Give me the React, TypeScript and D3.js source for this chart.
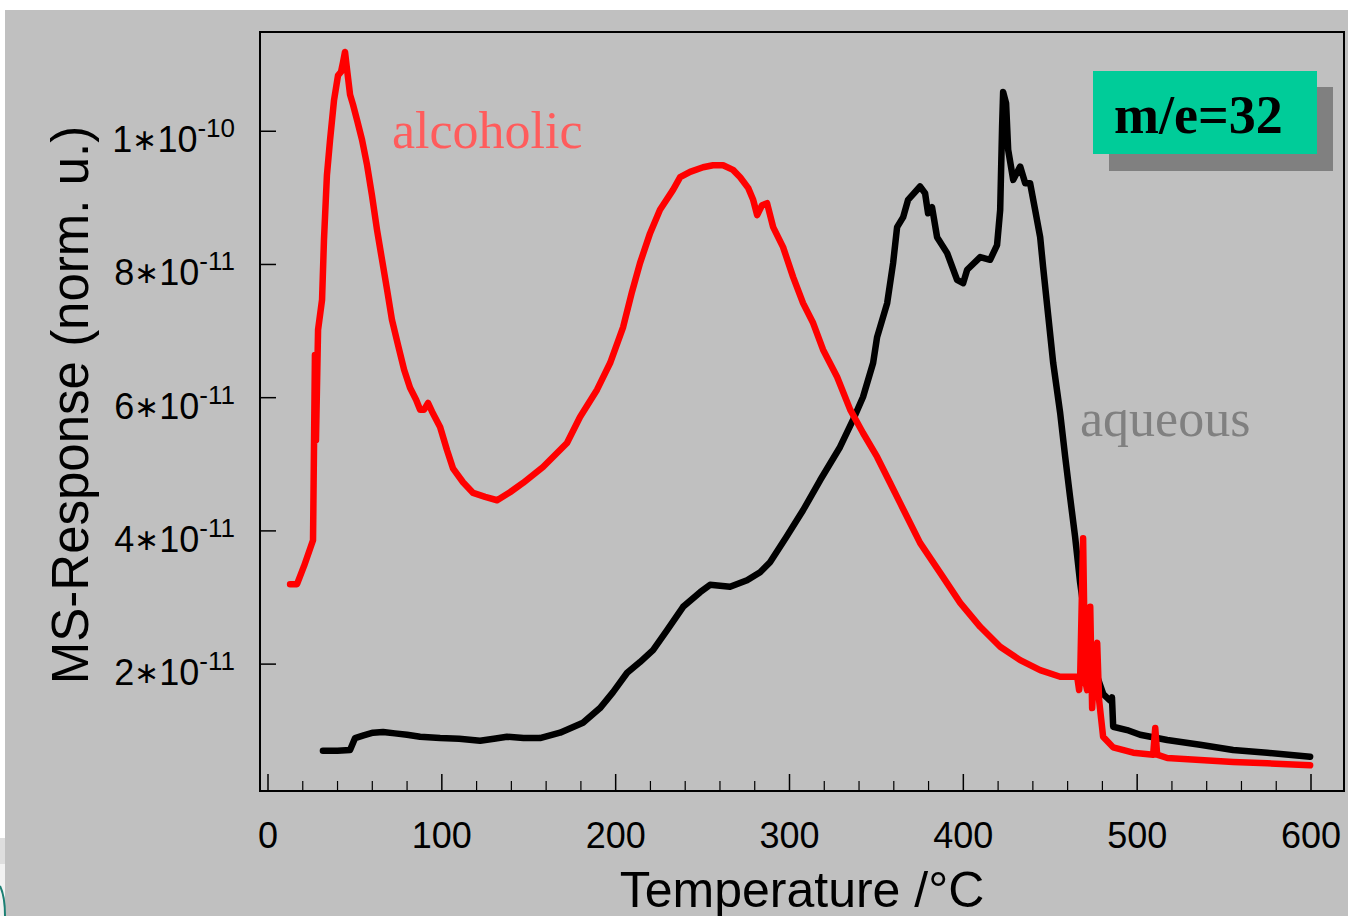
import React from "react";
import * as d3 from "d3";

// temperature (°C), signal in units of 1e-11
const alcoholic: [number, number][] = [
  [12.7, 3.2], [16.7, 3.2], [20.7, 3.47], [24.7, 3.77], [25.9, 3.86], [26.5, 5.36], [27.0, 6.64],
  [27.6, 5.36], [28.8, 7.02], [31.1, 7.47], [32.2, 8.37], [33.9, 9.34], [35.7, 9.87], [38.0, 10.47],
  [40.3, 10.84], [42.0, 10.89], [43.2, 11.04], [44.3, 11.19], [45.5, 10.92], [47.2, 10.55],
  [48.9, 10.4], [51.2, 10.17], [54.1, 9.87], [57.0, 9.49], [59.8, 9.04], [62.7, 8.52], [65.6, 8.07],
  [68.5, 7.62], [71.3, 7.17], [74.8, 6.79], [78.3, 6.42], [81.7, 6.15], [85.2, 5.97], [87.5, 5.82],
  [89.8, 5.82], [92.1, 5.92], [94.4, 5.79], [99.0, 5.56], [103.0, 5.21], [106.4, 4.94], [112.2, 4.73],
  [118.0, 4.57], [124.9, 4.51], [131.8, 4.46], [139.2, 4.58], [146.7, 4.72], [158.2, 4.96],
  [165.1, 5.14], [172.0, 5.32], [179.5, 5.71], [189.3, 6.12], [196.8, 6.52], [204.3, 7.06],
  [209.4, 7.59], [214.0, 8.02], [219.8, 8.47], [225.5, 8.82], [233.0, 9.12], [237.1, 9.31],
  [242.8, 9.39], [250.3, 9.46], [256.0, 9.49], [261.8, 9.49], [267.5, 9.42], [271.6, 9.31],
  [276.2, 9.15], [279.1, 8.97], [281.4, 8.74], [284.2, 8.89], [287.1, 8.92], [290.6, 8.56],
  [296.3, 8.26], [302.1, 7.81], [307.8, 7.42], [313.6, 7.12], [319.3, 6.72], [327.4, 6.31],
  [334.9, 5.82], [342.3, 5.47], [350.4, 5.11], [357.9, 4.72], [363.6, 4.42], [375.1, 3.82],
  [386.7, 3.37], [398.2, 2.92], [409.7, 2.56], [421.2, 2.26], [432.7, 2.06], [444.2, 1.91],
  [455.7, 1.81], [465.5, 1.81], [466.6, 1.61], [467.2, 1.79], [468.9, 3.89], [470.1, 1.76],
  [471.2, 1.61], [473.0, 2.86], [474.1, 1.34], [475.8, 2.21], [477.0, 2.32], [478.1, 1.46],
  [480.4, 0.91], [486.2, 0.75], [497.7, 0.67], [509.2, 0.64], [510.4, 1.04], [511.5, 0.64],
  [517.3, 0.59], [536.2, 0.56], [555.2, 0.53], [574.8, 0.51], [599.5, 0.48],
];

const aqueous: [number, number][] = [
  [31.6, 0.7], [40, 0.7], [47.2, 0.71], [50.1, 0.89], [55, 0.93], [60.4, 0.97], [66.2, 0.98],
  [73, 0.96], [80, 0.94], [87.5, 0.91], [99, 0.89], [110, 0.88], [122, 0.85], [130, 0.88],
  [137.5, 0.91], [147, 0.89], [156.5, 0.89], [168, 0.97], [181.2, 1.12], [191, 1.34], [198.5, 1.58],
  [206.6, 1.87], [214, 2.03], [221.5, 2.21], [229.6, 2.51], [238.8, 2.86], [248.6, 3.08],
  [254.3, 3.19], [265.8, 3.16], [275.6, 3.26], [283.1, 3.38], [288.8, 3.53], [298, 3.9],
  [307.8, 4.31], [317.6, 4.76], [329.1, 5.26], [336.6, 5.67], [342.3, 6.01], [348.1, 6.52],
  [350.4, 6.91], [356.2, 7.42], [359.6, 8.02], [361.9, 8.56], [365.4, 8.71], [368.2, 8.97],
  [375.1, 9.17], [378, 9.07], [379.7, 8.77], [382, 8.86], [384.9, 8.41], [390.7, 8.17],
  [396.4, 7.77], [399.9, 7.72], [402.2, 7.92], [409.7, 8.11], [415.4, 8.07], [419.4, 8.29],
  [421.2, 8.82], [422.3, 10.07], [422.9, 10.59], [424.6, 10.42], [425.8, 9.72], [428.7, 9.27],
  [432.7, 9.47], [435.6, 9.22], [438.4, 9.22], [441.3, 8.82], [444.2, 8.41], [445.9, 7.96],
  [448.8, 7.24], [451.7, 6.52], [455.7, 5.77], [458.6, 5.11], [461.4, 4.51], [464.3, 3.91],
  [467.2, 3.22], [471.2, 2.47], [476.5, 1.85], [480.5, 1.55], [484.5, 1.45], [485.5, 1.5],
  [486.2, 1.06], [494.2, 1.01], [501.7, 0.94], [517.3, 0.86], [536.2, 0.79], [555.2, 0.71],
  [574.8, 0.67], [599.5, 0.61],
];

const xTicks = [0, 100, 200, 300, 400, 500, 600];
const xMinorTicks = d3.range(0, 601, 20).filter((v) => v % 100 !== 0);
const yTicks = [2, 4, 6, 8, 10];
const yMantissa = ["2", "4", "6", "8", "1"];
const yExponent = ["-11", "-11", "-11", "-11", "-10"];

const sans = "'Liberation Sans', Arial, sans-serif";
const serif = "'Liberation Serif', 'Times New Roman', serif";

export default function App() {
  const W = 1348;
  const H = 916;
  const left = 260, top = 32, right = 1344, bottom = 791;

  const x = d3.scaleLinear().domain([0, 600]).range([268, 1311]);
  const y = d3.scaleLinear().domain([0.095, 11.49]).range([bottom, top]);

  const line = d3.line<[number, number]>()
    .x((d) => x(d[0]))
    .y((d) => y(d[1]));

  return (
    <svg width={W} height={H} style={{ position: "absolute", left: 0, top: 0 }}>
      <rect x={0} y={0} width={W} height={H} fill="#ffffff" />
      <rect x={5} y={10} width={W - 5} height={H - 10} fill="#c0c0c0" />
      {/* leftover bits of the slide at the edge */}
      <rect x={0} y={838} width={5} height={26} fill="#dedede" />
      <rect x={0} y={864} width={5} height={52} fill="#f2f2f2" />
      <path d="M0,886 Q5,896 5,916" fill="none" stroke="#1b7f73" strokeWidth={2} />

      {/* frame */}
      <rect x={left} y={top} width={right - left} height={bottom - top}
        fill="none" stroke="#000" strokeWidth={2} />

      {/* x ticks, inside */}
      {xTicks.map((t) => (
        <line key={"xM" + t} x1={x(t)} x2={x(t)} y1={bottom} y2={bottom - 17}
          stroke="#000" strokeWidth={1.5} />
      ))}
      {xMinorTicks.map((t) => (
        <line key={"xm" + t} x1={x(t)} x2={x(t)} y1={bottom} y2={bottom - 10}
          stroke="#000" strokeWidth={1.2} />
      ))}
      {xTicks.map((t) => (
        <text key={"xl" + t} x={x(t)} y={848} textAnchor="middle"
          fontFamily={sans} fontSize={36} fill="#000">{t}</text>
      ))}

      {/* y ticks */}
      {yTicks.map((t, i) => (
        <g key={"y" + t}>
          <line x1={left} x2={left + 16} y1={y(t)} y2={y(t)} stroke="#000" strokeWidth={1.5} />
          <text x={235} y={y(t) + 21} textAnchor="end" fontFamily={sans} fontSize={36} fill="#000">
            <tspan>{yMantissa[i]}</tspan>
            <tspan fontSize={30} dy={-2}>∗</tspan>
            <tspan dy={2}>10</tspan>
            <tspan dy={-15} fontSize={26}>{yExponent[i]}</tspan>
          </text>
        </g>
      ))}

      {/* axis titles */}
      <text x={802} y={907} textAnchor="middle" fontFamily={sans} fontSize={50} fill="#000">
        Temperature /°C
      </text>
      <text transform={`translate(88,405) rotate(-90)`} textAnchor="middle"
        fontFamily={sans} fontSize={51} fill="#000">
        MS-Response (norm. u.)
      </text>

      {/* curves */}
      <path d={line(aqueous) || ""} fill="none" stroke="#000" strokeWidth={6.5}
        strokeLinejoin="round" strokeLinecap="round" />
      <path d={line(alcoholic) || ""} fill="none" stroke="#ff0000" strokeWidth={6.5}
        strokeLinejoin="round" strokeLinecap="round" />

      {/* series labels */}
      <text x={392} y={148} fontFamily={serif} fontSize={52} fill="#ff5c5c">alcoholic</text>
      <text x={1080} y={436} fontFamily={serif} fontSize={52} fill="#808080">aqueous</text>

      {/* m/e box */}
      <rect x={1109} y={87} width={224} height={84} fill="#808080" />
      <rect x={1093} y={71} width={224} height={83} fill="#00cc99" />
      <text x={1114} y={133} fontFamily={serif} fontSize={54} fontWeight="bold" fill="#000">
        m/e=32
      </text>
    </svg>
  );
}
